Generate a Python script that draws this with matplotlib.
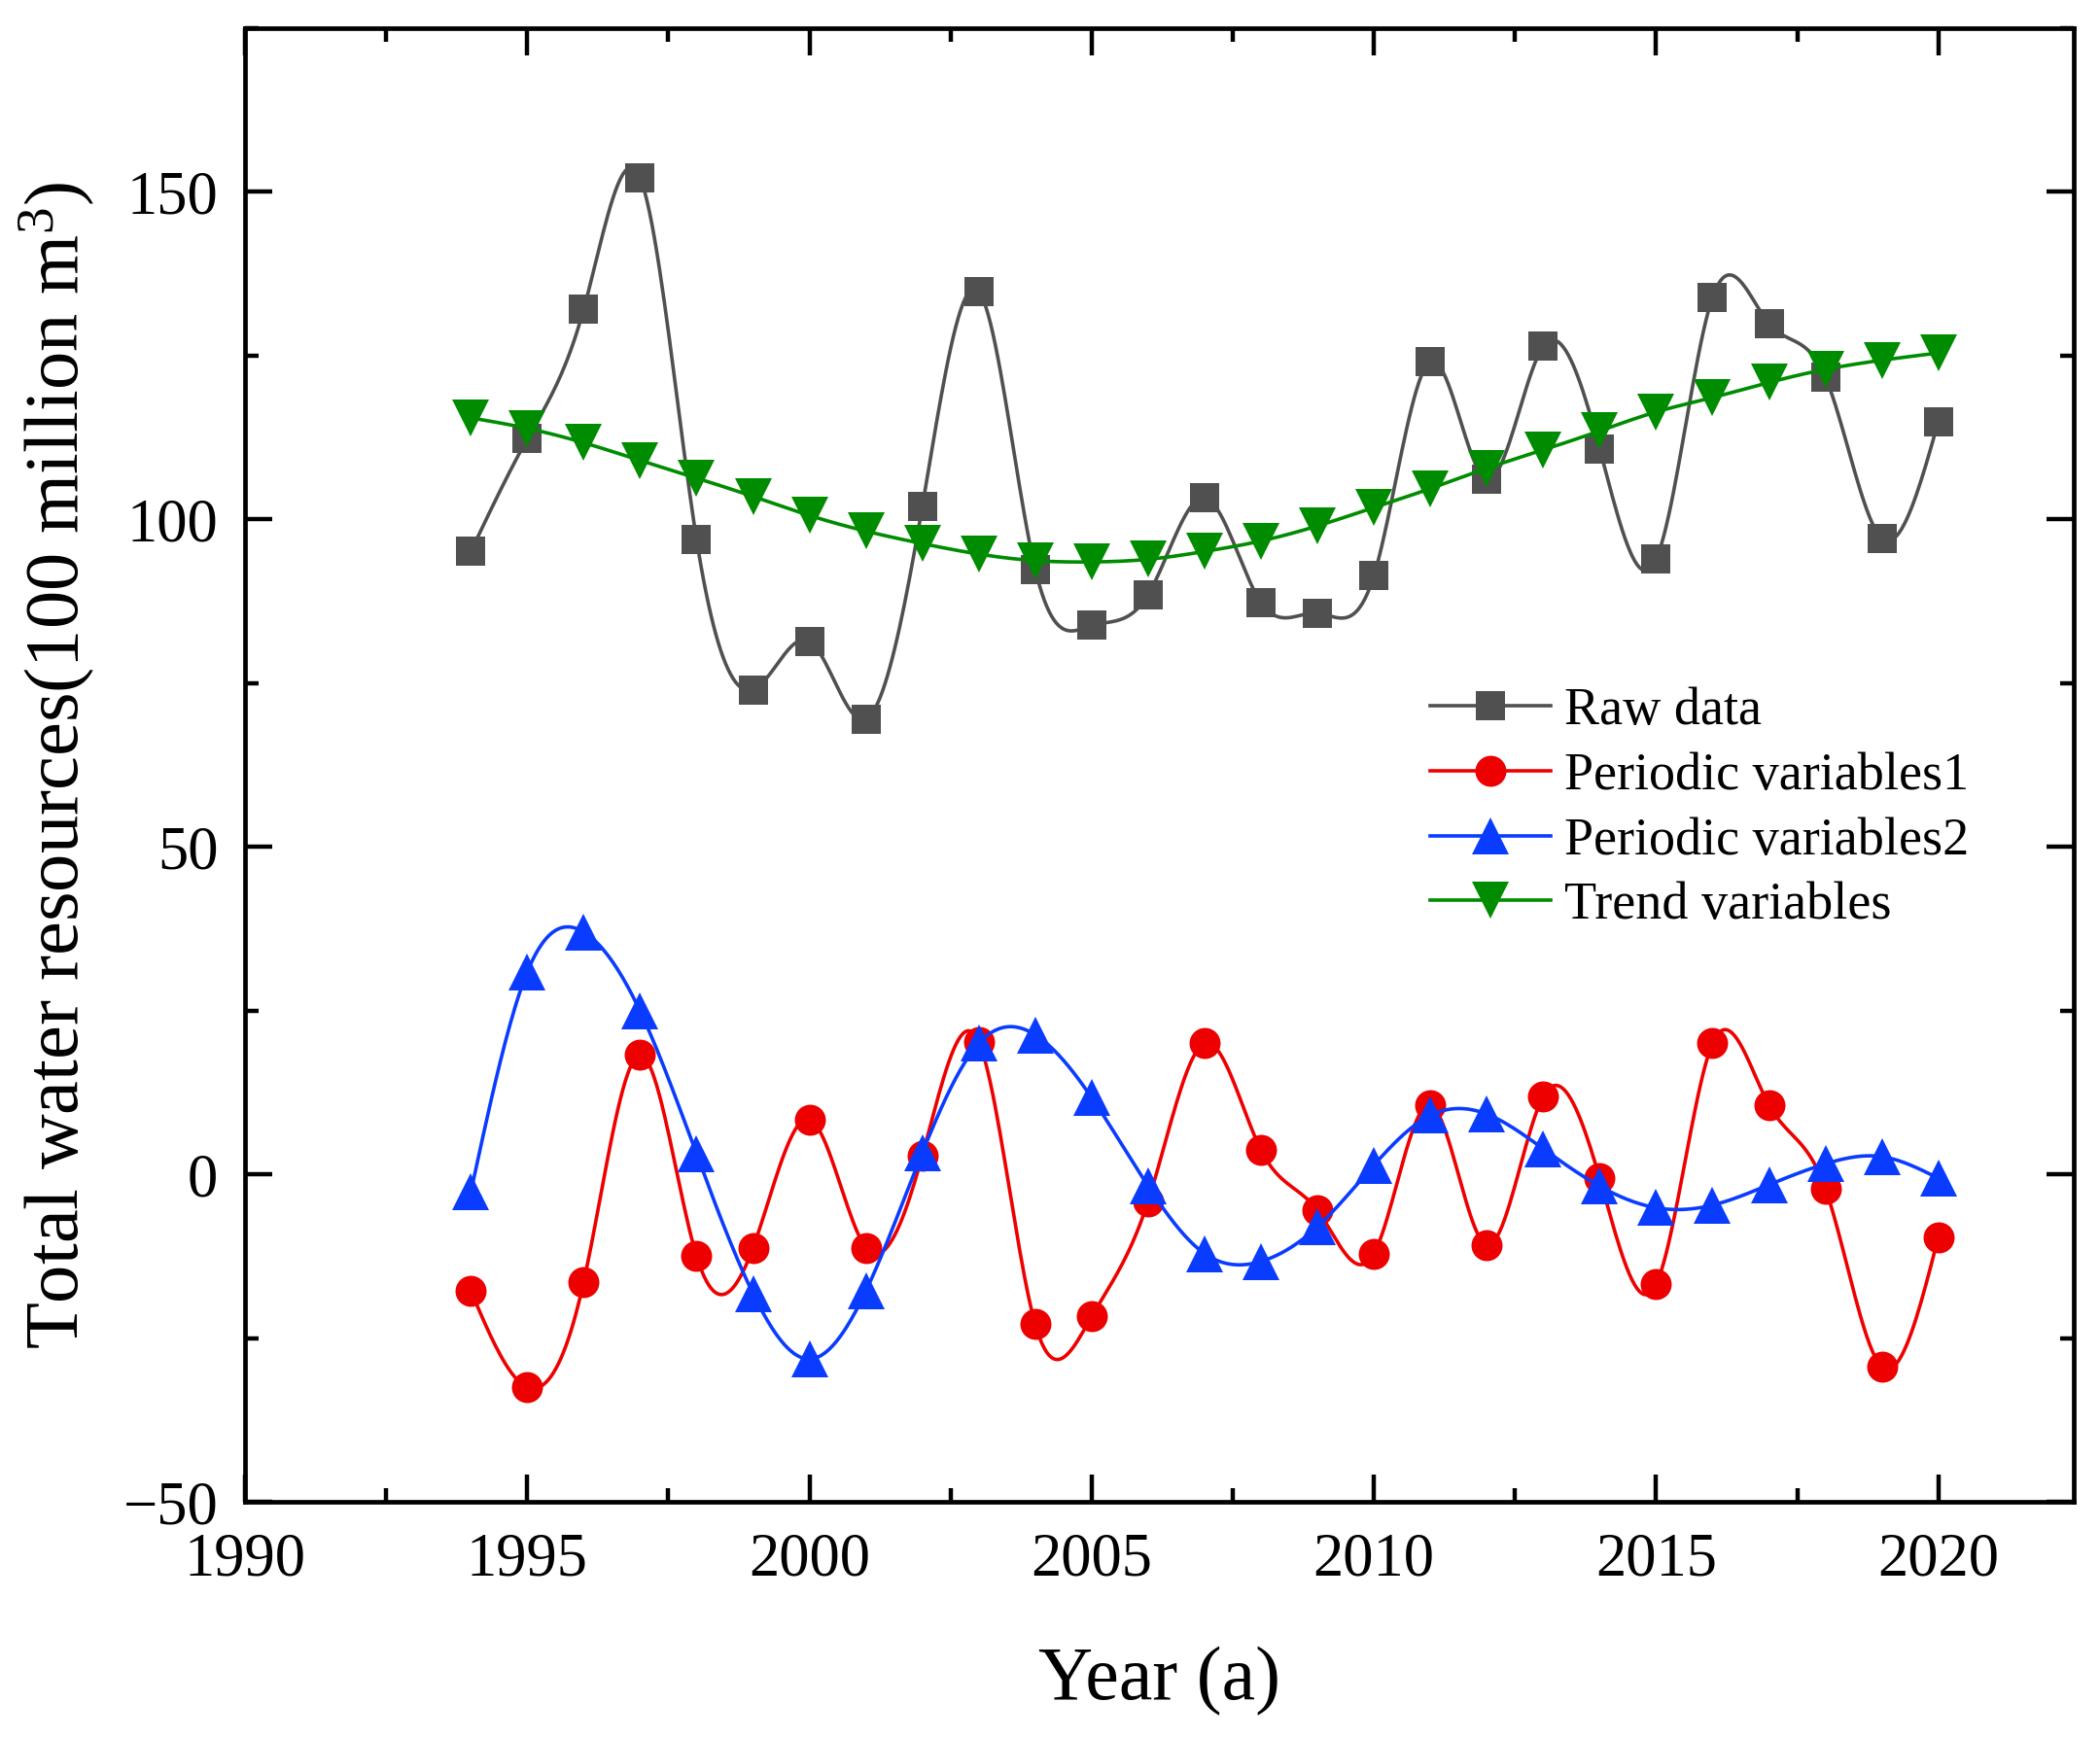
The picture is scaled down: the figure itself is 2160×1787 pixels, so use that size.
import numpy as np
import matplotlib
matplotlib.use("Agg")
import matplotlib.pyplot as plt
from matplotlib.ticker import MultipleLocator

plt.rcParams['font.family'] = ['Liberation Serif', 'DejaVu Serif']
plt.rcParams['mathtext.fontset'] = 'custom'
plt.rcParams['mathtext.rm'] = 'Liberation Serif'
plt.rcParams['mathtext.it'] = 'Liberation Serif:italic'

years = np.arange(1994, 2021)

raw_data = [95.1, 112.3, 132.1, 152.1, 96.9, 74.0, 81.4, 69.5, 102.0, 134.8,
            92.4, 83.8, 88.5, 103.3, 87.3, 85.7, 91.4, 124.1, 106.1, 126.4,
            110.8, 93.9, 133.9, 129.9, 121.7, 97.1, 114.9]
periodic1 = [-17.8, -32.5, -16.4, 18.2, -12.5, -11.2, 8.4, -11.2, 2.9, 20.2,
             -22.9, -21.7, -4.1, 20.0, 3.7, -5.5, -12.1, 10.6, -10.8, 11.9,
             -0.6, -16.8, 20.0, 10.6, -2.2, -29.4, -9.6]
periodic2 = [-2.7, 30.9, 37.0, 24.9, 3.1, -18.2, -28.2, -17.8, 3.3, 20.0,
             21.3, 11.7, -1.8, -12.1, -13.3, -8.0, 1.4, 9.0, 9.2, 3.9,
             -1.8, -5.1, -4.7, -1.6, 1.6, 2.7, -0.6]
trend = [115.5, 113.9, 111.7, 109.0, 106.3, 103.5, 100.6, 98.2, 96.3, 94.7,
         93.7, 93.5, 93.9, 95.1, 96.7, 99.0, 101.8, 104.7, 107.8, 110.6,
         113.5, 116.4, 118.6, 120.9, 122.9, 124.3, 125.4]

labels = ['Raw data', 'Periodic variables1', 'Periodic variables2', 'Trend variables']
colors = ['#505050', '#EE0000', '#0A3CFF', '#008C00']
markers = ['s', 'o', '^', 'v']
msizes = [21, 23, 27, 27]


def spline_curve(x, y, n=600):
    # natural cubic spline through the points, only used to draw the smooth line
    x = np.asarray(x, float)
    y = np.asarray(y, float)
    k = len(x)
    h = np.diff(x)
    A = np.zeros((k, k))
    b = np.zeros(k)
    A[0, 0] = 1
    A[-1, -1] = 1
    for i in range(1, k - 1):
        A[i, i - 1] = h[i - 1]
        A[i, i] = 2 * (h[i - 1] + h[i])
        A[i, i + 1] = h[i]
        b[i] = 6 * ((y[i + 1] - y[i]) / h[i] - (y[i] - y[i - 1]) / h[i - 1])
    M = np.linalg.solve(A, b)
    xs = np.linspace(x[0], x[-1], n)
    idx = np.clip(np.searchsorted(x, xs) - 1, 0, k - 2)
    x0, x1 = x[idx], x[idx + 1]
    hh = x1 - x0
    t0 = x1 - xs
    t1 = xs - x0
    ys = (M[idx] * t0 ** 3 + M[idx + 1] * t1 ** 3) / (6 * hh) \
        + (y[idx] / hh - M[idx] * hh / 6) * t0 \
        + (y[idx + 1] / hh - M[idx + 1] * hh / 6) * t1
    return xs, ys


fig = plt.figure(figsize=(21.6, 17.87), dpi=100)
ax = fig.add_axes([0.1167, 0.1354, 0.9875 - 0.1167, 0.9838 - 0.1354])

series = [raw_data, periodic1, periodic2, trend]
for vals, lab, col, mk, ms in zip(series, labels, colors, markers, msizes):
    xs, ys = spline_curve(years, vals)
    ax.plot(xs, ys, color=col, lw=2.6)
    ax.plot(years, vals, linestyle='none', marker=mk, ms=ms, color=col,
            markeredgewidth=0)
    ax.plot([], [], color=col, lw=2.6, marker=mk, ms=ms, markeredgewidth=0,
            label=lab)

ax.set_xlim(1990, 2022.4)
ax.set_ylim(-50, 175)
ax.xaxis.set_major_locator(MultipleLocator(5))
ax.xaxis.set_minor_locator(MultipleLocator(2.5))
ax.yaxis.set_major_locator(MultipleLocator(50))
ax.yaxis.set_minor_locator(MultipleLocator(25))

for s in ax.spines.values():
    s.set_linewidth(3.4)
ax.tick_params(which='both', direction='in', top=True, right=True, width=3.2)
ax.tick_params(which='major', length=20, labelsize=45)
ax.tick_params(which='minor', length=10)
ax.tick_params(axis='x', pad=23)
ax.tick_params(axis='y', pad=20)

ax.set_xlabel('Year (a)', fontsize=56)
ax.set_ylabel('Total water resources(100 million m$^{3}$)', fontsize=56.5)
ax.xaxis.set_label_coords(0.5, -0.098)
ax.yaxis.set_label_coords(-0.081, 0.5)

ax.legend(loc='upper left', bbox_to_anchor=(0.648, 0.553), frameon=False,
          fontsize=39, handlelength=2.3, handletextpad=0.25, labelspacing=0.3,
          borderpad=0, borderaxespad=0)

fig.savefig('out.png', dpi=100)
